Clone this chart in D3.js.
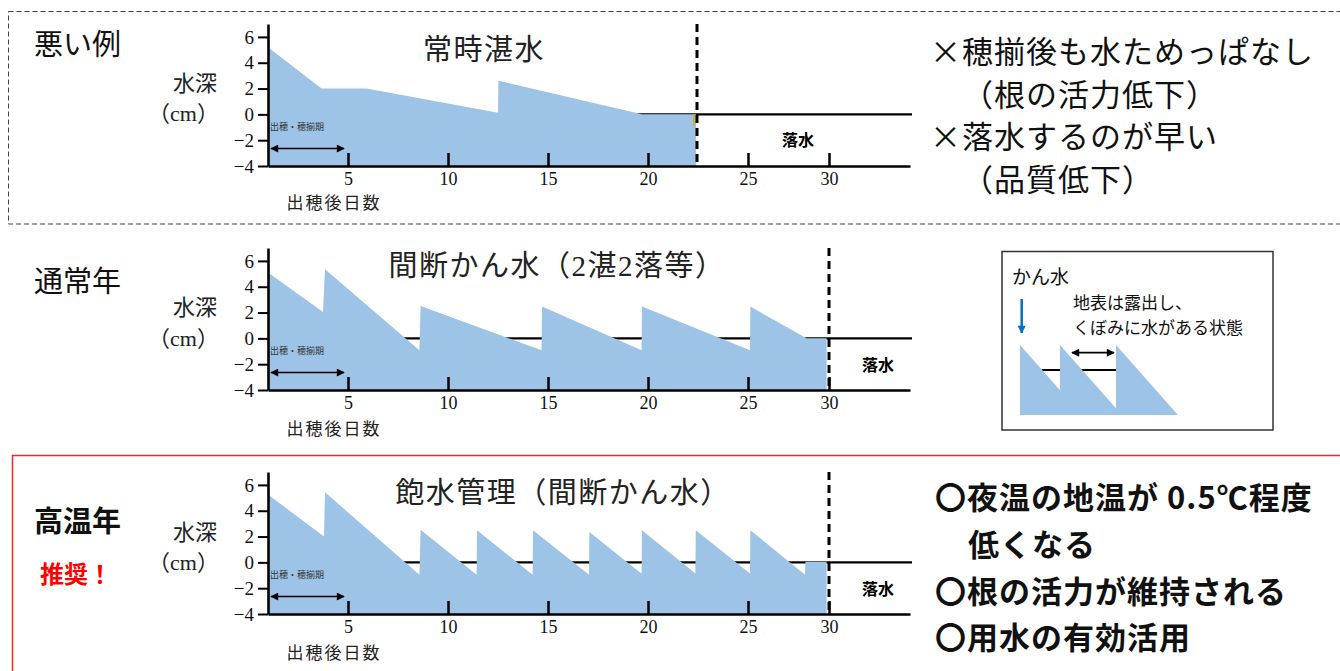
<!DOCTYPE html>
<html><head><meta charset="utf-8">
<script src="https://cdn.jsdelivr.net/npm/d3@7"></script>
<style>
html,body{margin:0;padding:0;background:#fff;}
svg{display:block;}
</style></head>
<body>
<svg id="c" width="1340" height="671"></svg>
<script>
// ---- data ----
const xTickVals = [5, 10, 15, 20, 25, 29.05];
const xTickLabels = ["5", "10", "15", "20", "25", "30"];
const yTickVals = [-4, -2, 0, 2, 4, 6];

const rowLabels = ["悪い例", "通常年", "高温年"];
const panelTitles = ["常時湛水", "間断かん水（2湛2落等）", "飽水管理（間断かん水）"];
const drainDays = [22.45, 29.05, 29.05];

// 常時湛水
const days1 = [1, 3.68, 5.93, 12.5, 12.52, 19.7, 22.4];
const vals1 = [5.2, 2.0, 2.0, 0.13, 2.6, 0, 0];
// 間断かん水（2湛2落等）
const days2 = [1, 3.75, 3.85, 8.57, 8.63, 14.68, 14.7, 19.68, 19.7, 25.1, 25.12, 27.93, 28.93];
const vals2 = [5.1, 2.05, 5.36, -0.93, 2.5, -0.93, 2.46, -0.93, 2.46, -0.93, 2.46, 0, 0];
// 飽水管理（間断かん水）
const days3 = [1, 3.8, 3.85, 8.57, 8.63, 11.43, 11.45, 14.23, 14.25, 17.05, 17.07, 19.68, 19.7, 22.37, 22.39, 25.1, 25.12, 27.85, 27.87, 28.93];
const vals3 = [5.25, 2.0, 5.43, -0.96, 2.52, -0.96, 2.49, -0.96, 2.49, -0.96, 2.36, -0.88, 2.49, -0.86, 2.49, -0.86, 2.49, -0.96, 0.05, 0.05];

const periodLabel = "出穂・穂揃期";
const periodDays = [1.15, 4.8];
const drainLabel = "落水";
const xAxisLabel = "出穂後日数";
const yAxisLabel1 = "水深";
const yAxisLabel2 = "（cm）";

const badNotes = ["×穂揃後も水ためっぱなし", "（根の活力低下）", "×落水するのが早い", "（品質低下）"];
const goodNotes = ["〇夜温の地温が 0.5℃程度", "低くなる", "〇根の活力が維持される", "〇用水の有効活用"];
const recommend = "推奨！";
const legendTitle = "かん水";
const legendLines = ["地表は露出し、", "くぼみに水がある状態"];

// ---- drawing ----
const svg = d3.select("#c");
const JP = "'Noto Sans CJK JP', 'Noto Sans', sans-serif";
const SERIF = "'Liberation Serif', 'Noto Sans CJK JP', serif";
const FILL = "#9dc3e6";

const defs = svg.append("defs");
function marker(id, color, orient) {
  defs.append("marker").attr("id", id).attr("viewBox", "0 0 10 10")
    .attr("refX", 9).attr("refY", 5).attr("markerWidth", 9).attr("markerHeight", 8)
    .attr("markerUnits", "userSpaceOnUse").attr("orient", orient)
    .append("path").attr("d", "M0,0 L10,5 L0,10 z").attr("fill", color);
}
marker("ah", "#000", "auto-start-reverse");
marker("ahb", "#0070c0", "auto");

// frames
svg.append("rect").attr("x", 8.5).attr("y", 11.5).attr("width", 1340).attr("height", 212.5)
  .attr("fill", "none").attr("stroke", "#444").attr("stroke-width", 1).attr("stroke-dasharray", "5,3");
svg.append("rect").attr("x", 12.5).attr("y", 455.5).attr("width", 1340).attr("height", 300)
  .attr("fill", "none").attr("stroke", "#ef2b2b").attr("stroke-width", 1.5);

const series = [
  days1.map((d, i) => [d, vals1[i]]),
  days2.map((d, i) => [d, vals2[i]]),
  days3.map((d, i) => [d, vals3[i]])
];
const offsets = [0, 224, 448];
const titleX = [484, 557, 563];
const titleY = [50, 265.5, 493];
const rowLabelY = [45, 282, 522];
const yLab1 = [83, 307, 532];
const yLab2 = [113, 338, 562];
const xLabY = [203, 429, 653];

series.forEach((data, p) => {
  const off = offsets[p];
  const x = d3.scaleLinear().domain([1, 33.1]).range([268, 910]);
  const y = d3.scaleLinear().domain([-4, 7]).range([166 + off, 24 + off]);
  const g = svg.append("g");

  // zero line (behind)
  g.append("line").attr("x1", x(1)).attr("x2", x(33.1) + 2).attr("y1", y(0)).attr("y2", y(0))
    .attr("stroke", "#000").attr("stroke-width", 2.2);

  // area
  const area = d3.area().x(d => x(d[0])).y0(y(-4)).y1(d => y(d[1]));
  g.append("path").datum(data).attr("d", area).attr("fill", FILL);

  if (p === 0) {
    const last = data[data.length - 1][0];
    g.append("line").attr("x1", x(last) - 2).attr("x2", x(last) - 2).attr("y1", y(0)).attr("y2", y(-0.9))
      .attr("stroke", "#f0a000").attr("stroke-width", 1.5);
  }

  // drain dashed line
  g.append("line").attr("x1", x(drainDays[p])).attr("x2", x(drainDays[p]))
    .attr("y1", y(7)).attr("y2", y(-4))
    .attr("stroke", "#000").attr("stroke-width", 3).attr("stroke-dasharray", "8,5");

  // y axis
  const ya = g.append("g").attr("transform", `translate(${x(1)},0)`)
    .call(d3.axisLeft(y).tickValues(yTickVals).tickSizeInner(10).tickSizeOuter(0).tickPadding(4)
      .tickFormat(d => d < 0 ? "−" + Math.abs(d) : String(d)));
  ya.select(".domain").attr("stroke-width", 2.6);
  ya.selectAll(".tick line").attr("stroke-width", 2);
  ya.selectAll(".tick text").attr("font-family", SERIF).attr("font-size", 19).attr("fill", "#111");

  // x axis
  const xa = g.append("g").attr("transform", `translate(0,${y(-4)})`)
    .call(d3.axisBottom(x).tickValues(xTickVals).tickSizeInner(-13).tickSizeOuter(0).tickPadding(6)
      .tickFormat((d, i) => xTickLabels[i]));
  xa.select(".domain").attr("stroke-width", 2.6);
  xa.selectAll(".tick line").attr("stroke-width", 2.5);
  xa.selectAll(".tick text").attr("font-family", SERIF).attr("font-size", 18).attr("fill", "#111");

  // period arrow
  g.append("line").attr("x1", x(periodDays[0])).attr("x2", x(periodDays[1]))
    .attr("y1", y(-2.65)).attr("y2", y(-2.65)).attr("stroke", "#000").attr("stroke-width", 1.5)
    .attr("marker-start", "url(#ah)").attr("marker-end", "url(#ah)");
  g.append("text").attr("x", x(1) + 2).attr("y", y(-1.0)).attr("dy", "0.35em")
    .attr("font-family", JP).attr("font-size", 9).attr("fill", "#333").text(periodLabel);

  // 落水
  g.append("text").attr("x", p === 0 ? 798 : 878).attr("y", y(p === 0 ? -2 : -2.1)).attr("dy", "0.35em")
    .attr("text-anchor", "middle").attr("font-family", JP).attr("font-weight", 700)
    .attr("font-size", 16).attr("fill", "#000").text(drainLabel);

  // title
  g.append("text").attr("x", titleX[p]).attr("y", titleY[p]).attr("dy", "0.36em")
    .attr("text-anchor", "middle").attr("font-family", SERIF).attr("font-size", 29)
    .attr("letter-spacing", 1.5).attr("fill", "#222").text(panelTitles[p]);

  // axis labels
  g.append("text").attr("x", 217).attr("y", yLab1[p]).attr("dy", "0.36em").attr("text-anchor", "end")
    .attr("font-family", JP).attr("font-size", 22).attr("fill", "#222").text(yAxisLabel1);
  g.append("text").attr("x", 219).attr("y", yLab2[p]).attr("dy", "0.36em").attr("text-anchor", "end")
    .attr("font-family", SERIF).attr("font-size", 22).attr("fill", "#222").text(yAxisLabel2);
  g.append("text").attr("x", 334).attr("y", xLabY[p]).attr("dy", "0.36em").attr("text-anchor", "middle")
    .attr("font-family", JP).attr("font-size", 17).attr("letter-spacing", 2).attr("fill", "#222").text(xAxisLabel);

  // row label
  g.append("text").attr("x", 34).attr("y", rowLabelY[p]).attr("dy", "0.36em")
    .attr("font-family", JP).attr("font-size", 29).attr("font-weight", p === 2 ? 700 : 400)
    .attr("fill", "#111").text(rowLabels[p]);
});

// 推奨！
svg.append("text").attr("x", 40).attr("y", 574).attr("dy", "0.36em")
  .attr("font-family", JP).attr("font-weight", 700).attr("font-size", 24).attr("fill", "#f00").text(recommend);

// notes panel 1
const badX = [930, 962, 930, 962];
const badY = [52, 95, 137, 180];
badNotes.forEach((t, i) => {
  svg.append("text").attr("x", badX[i]).attr("y", badY[i]).attr("dy", "0.36em")
    .attr("font-family", JP).attr("font-weight", 400).attr("font-size", 31).attr("letter-spacing", 1)
    .attr("fill", "#111").text(t);
});
// notes panel 3
const goodX = [935, 968, 935, 935];
const goodY = [498, 545, 592, 638];
goodNotes.forEach((t, i) => {
  svg.append("text").attr("x", goodX[i]).attr("y", goodY[i]).attr("dy", "0.36em")
    .attr("font-family", JP).attr("font-weight", 700).attr("font-size", 31).attr("letter-spacing", 1)
    .attr("fill", "#111").text(t);
});

// legend box (schematic)
const lg = svg.append("g");
lg.append("rect").attr("x", 1002).attr("y", 251.5).attr("width", 271).attr("height", 178.5)
  .attr("fill", "#fff").attr("stroke", "#333").attr("stroke-width", 1.5);
lg.append("text").attr("x", 1012).attr("y", 277).attr("dy", "0.36em").attr("font-family", JP)
  .attr("font-size", 19).attr("fill", "#111").text(legendTitle);
legendLines.forEach((t, i) => {
  lg.append("text").attr("x", 1073).attr("y", 303 + i * 25).attr("dy", "0.36em").attr("font-family", JP)
    .attr("font-size", 17).attr("fill", "#111").text(t);
});
lg.append("line").attr("x1", 1021.7).attr("x2", 1021.7).attr("y1", 299).attr("y2", 333)
  .attr("stroke", "#0070c0").attr("stroke-width", 2.5).attr("marker-end", "url(#ahb)");
lg.append("line").attr("x1", 1041.7).attr("x2", 1116).attr("y1", 370).attr("y2", 370)
  .attr("stroke", "#000").attr("stroke-width", 2);
const triX = [1020, 1060, 1116];
triX.forEach(tx => {
  lg.append("path").attr("d", `M${tx},345 L${tx},415 L${tx + 62},415 Z`).attr("fill", FILL);
});
lg.append("line").attr("x1", 1072).attr("x2", 1114).attr("y1", 352.7).attr("y2", 352.7)
  .attr("stroke", "#000").attr("stroke-width", 1.8)
  .attr("marker-start", "url(#ah)").attr("marker-end", "url(#ah)");
</script>
</body></html>
